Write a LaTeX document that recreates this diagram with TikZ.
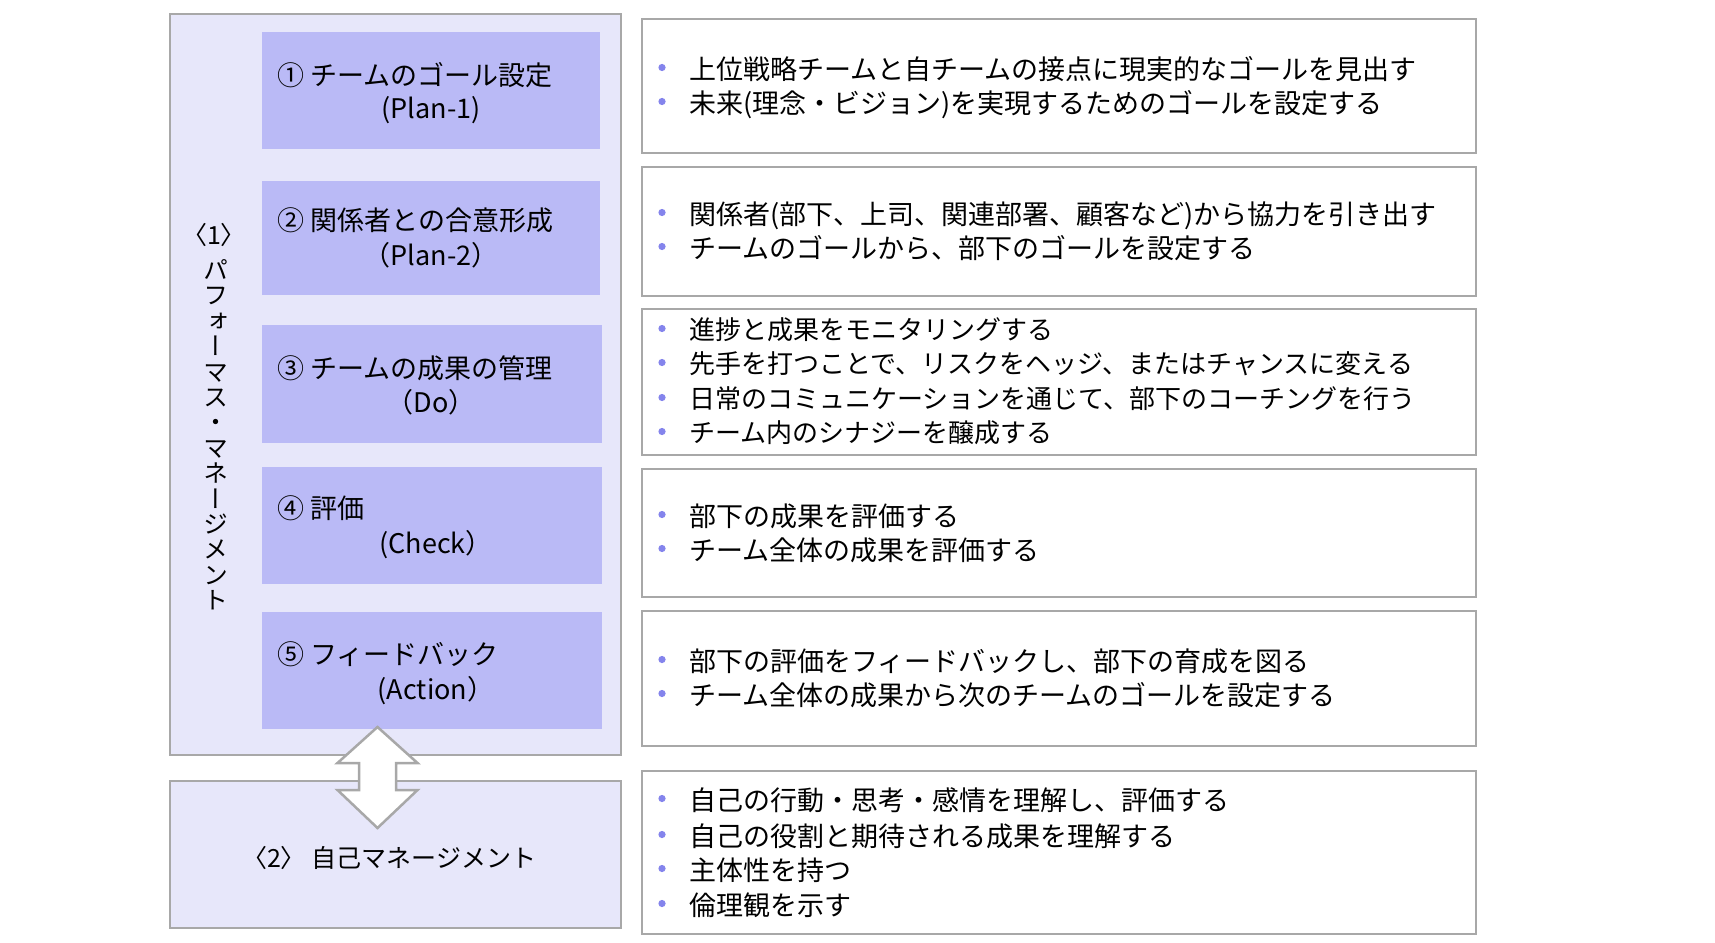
\documentclass[tikz,border=0pt]{standalone}
\usepackage{fontspec}
\setmainfont{Noto Sans CJK JP}
\newfontfamily\vjp[RawFeature=+vert]{Noto Sans CJK JP}
\definecolor{lav}{RGB}{231,231,250}
\definecolor{lilac}{RGB}{186,186,246}
\definecolor{grayline}{RGB}{168,168,168}
\definecolor{bul}{RGB}{132,132,236}
\tikzset{
  outerbox/.style={draw=grayline, line width=2pt, fill=lav, anchor=north west, inner sep=0pt},
  stepbox/.style={fill=lilac, draw=none, anchor=north west, inner sep=0pt},
  rbox/.style={draw=grayline, line width=2pt, fill=white, anchor=north west, inner sep=0pt},
  jtxt/.style={inner sep=0pt},
  s27/.style={font=\fontsize{27}{32}\selectfont, text height=23.76pt, text depth=3.24pt},
  s26/.style={font=\fontsize{26}{31}\selectfont, text height=22.88pt, text depth=3.12pt},
  s25/.style={font=\fontsize{25}{30}\selectfont, text height=22pt, text depth=3pt},
  lbl/.style={jtxt, s27, anchor=west},
  sub/.style={jtxt, s27, anchor=center},
  itm/.style={jtxt, s27, anchor=west},
  itmsm/.style={jtxt, s26, anchor=west},
  vch/.style={jtxt, s25, font=\fontsize{25}{30}\selectfont\vjp, anchor=center},
  blockarrow/.style={draw=grayline, line width=2.5pt, fill=white, line join=miter},
}
\newcommand{\bitem}[4][itm]{%
  \node[#1] (#2) at (689,#3) {#4};
  \fill[bul] ([xshift=-27pt,yshift=1.5pt]#2.west) circle (3.6pt);
}
\begin{document}
\begin{tikzpicture}[x=1pt,y=-1pt]
\useasboundingbox (0,0) rectangle (1715,942);
\fill[white] (0,0) rectangle (1715,942);

% left big boxes
\node[outerbox, minimum width=451, minimum height=741] (pm) at (169,13) {};
\node[outerbox, minimum width=451, minimum height=147] (sm) at (169,780) {};

% step boxes
\node[stepbox, minimum width=338, minimum height=117] (s1) at (262,32) {};
\node[stepbox, minimum width=338, minimum height=114] (s2) at (262,181) {};
\node[stepbox, minimum width=340, minimum height=118] (s3) at (262,325) {};
\node[stepbox, minimum width=340, minimum height=117] (s4) at (262,467) {};
\node[stepbox, minimum width=340, minimum height=117] (s5) at (262,612) {};

% step labels
\node[lbl] (l1a) at (277,75) {① チームのゴール設定};
\node[sub] (l1b) at (431,108) {(Plan-1)};
\node[lbl] (l2a) at (277,220) {② 関係者との合意形成};
\node[sub] (l2b) at (431,255) {（Plan-2）};
\node[lbl] (l3a) at (277,368) {③ チームの成果の管理};
\node[sub] (l3b) at (431,402) {（Do）};
\node[lbl] (l4a) at (277,508) {④ 評価};
\node[sub] (l4b) at (436,543) {(Check）};
\node[lbl] (l5a) at (277,654) {⑤ フィードバック};
\node[sub] (l5b) at (436,689) {(Action）};

% vertical title
\node[jtxt, s25, anchor=center] (t1) at (214,235) {〈1〉};
\foreach \c [count=\i] in {パ,フ,ォ,ー,マ,ス,・,マ,ネ,ー,ジ,メ,ン,ト}
  \node[vch] (v\i) at (216,{270+25.4*(\i-1)}) {\c};

% self management label
\node[jtxt, s25, anchor=center] (t2) at (389,858) {〈2〉 自己マネージメント};

% double block arrow
\draw[blockarrow] (377.5,727) -- (417.5,763) -- (396,763) -- (396,790) -- (417.5,790)
  -- (377.5,828) -- (337.5,790) -- (359,790) -- (359,763) -- (337.5,763) -- cycle;

% right boxes
\node[rbox, minimum width=834, minimum height=134] (r1) at (641,18) {};
\node[rbox, minimum width=834, minimum height=129] (r2) at (641,166) {};
\node[rbox, minimum width=834, minimum height=146] (r3) at (641,308) {};
\node[rbox, minimum width=834, minimum height=128] (r4) at (641,468) {};
\node[rbox, minimum width=834, minimum height=135] (r5) at (641,610) {};
\node[rbox, minimum width=834, minimum height=163] (r6) at (641,770) {};

\bitem{a1}{69}{上位戦略チームと自チームの接点に現実的なゴールを見出す}
\bitem{a2}{103}{未来(理念・ビジョン)を実現するためのゴールを設定する}
\bitem{b1}{214}{関係者(部下、上司、関連部署、顧客など)から協力を引き出す}
\bitem{b2}{248}{チームのゴールから、部下のゴールを設定する}
\bitem[itmsm]{c1}{330}{進捗と成果をモニタリングする}
\bitem[itmsm]{c2}{364}{先手を打つことで、リスクをヘッジ、またはチャンスに変える}
\bitem[itmsm]{c3}{399}{日常のコミュニケーションを通じて、部下のコーチングを行う}
\bitem[itmsm]{c4}{433}{チーム内のシナジーを醸成する}
\bitem{d1}{516}{部下の成果を評価する}
\bitem{d2}{550}{チーム全体の成果を評価する}
\bitem{e1}{661}{部下の評価をフィードバックし、部下の育成を図る}
\bitem{e2}{695}{チーム全体の成果から次のチームのゴールを設定する}
\bitem{f1}{800}{自己の行動・思考・感情を理解し、評価する}
\bitem{f2}{836}{自己の役割と期待される成果を理解する}
\bitem{f3}{870}{主体性を持つ}
\bitem{f4}{905}{倫理観を示す}
\end{tikzpicture}
\end{document}
